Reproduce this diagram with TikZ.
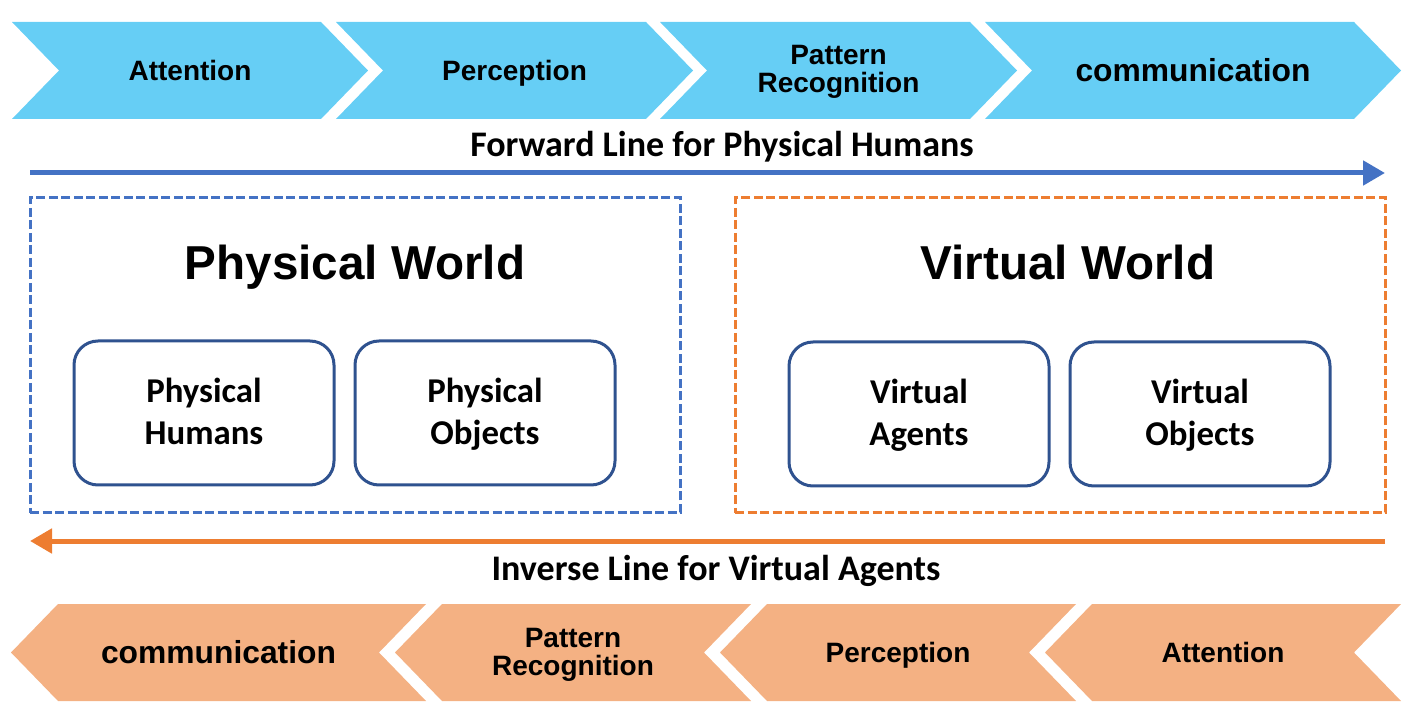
\documentclass[tikz,border=0pt]{standalone}
\usepackage{fontspec}
\setmainfont{Liberation Sans}
\newfontfamily\califont{Carlito}
\usetikzlibrary{arrows.meta,positioning}

\definecolor{chevblue}{RGB}{102,206,245}
\definecolor{chevorange}{RGB}{244,177,131}
\definecolor{lineblue}{RGB}{68,114,196}
\definecolor{lineorange}{RGB}{237,125,49}
\definecolor{boxborder}{RGB}{47,82,143}

\tikzset{
  chevtext/.style={align=center,inner sep=0pt},
  worldframe/.style={line width=1.5pt,dash pattern=on 4.5pt off 1.75pt,minimum width=325pt,minimum height=157.5pt,inner sep=0pt},
  worldtitle/.style={anchor=base,font=\bfseries\fontsize{23.8}{27}\selectfont},
  entity/.style={draw=boxborder,line width=1.5pt,rounded corners=12pt,minimum width=130pt,minimum height=72pt,inner sep=0pt,align=center,text height=32pt,text depth=0pt,font=\califont\bfseries\fontsize{17.4}{21}\selectfont},
  linelabel/.style={anchor=base,font=\califont\bfseries\fontsize{18}{21}\selectfont},
  flowline/.style={line width=2.5pt,-{Triangle[length=11pt,width=12pt]}}
}

\begin{document}
\begin{tikzpicture}[x=0.5pt,y=-0.5pt]
	\useasboundingbox (0,0) rectangle (1407,715);
	% Define chevron tip depth
	\def \tip {47}
	% Forward chevrons
	\foreach \xa/\xb/\name/\fsz/\hgt/\txt in {12/321/fatt/14/10/Attention, 336/646/fper/14/10/Perception, 660/970/fpat/14/22.5/{Pattern\\Recognition}, 985/1354/fcom/15.9/11.4/communication} {
		\fill[chevblue] (\xa,22) -- (\xb,22) -- (\xb+\tip,70.5) -- (\xb,119) -- (\xa,119) -- (\xa+\tip,70.5) -- cycle;
		\node[chevtext,text height=\hgt pt,text depth=0pt,font=\bfseries\fontsize{\fsz}{14}\selectfont] (\name) at ({(\xa+\xb)/2+\tip/2},70.5) {\txt};
	}
	% Inverse chevrons
	\foreach \xa/\xb/\name/\fsz/\hgt/\txt in {58/426/icom/15.9/11.4/communication, 442/751/ipat/14/22.5/{Pattern\\Recognition}, 767/1076/iper/14/10/Perception, 1092/1401/iatt/14/10/Attention} {
		\fill[chevorange] (\xa,604) -- (\xb,604) -- (\xb-\tip,652.5) -- (\xb,701) -- (\xa,701) -- (\xa-\tip,652.5) -- cycle;
		\node[chevtext,text height=\hgt pt,text depth=0pt,font=\bfseries\fontsize{\fsz}{14}\selectfont] (\name) at ({(\xa+\xb)/2-\tip/2},652.5) {\txt};
	}
	% Forward line
	\node[linelabel] (fwdlabel) at (722,157) {Forward Line for Physical Humans};
	\coordinate (fwdstart) at (30,173);
	\coordinate (fwdend) at (1385,173);
	\draw[flowline,lineblue] (fwdstart) -- (fwdend);
	% Inverse line
	\coordinate (invstart) at (1385,541);
	\coordinate (invend) at (30,541);
	\draw[flowline,lineorange] (invstart) -- (invend);
	\node[linelabel] (invlabel) at (716,580) {Inverse Line for Virtual Agents};
	% Worlds
	\node[worldframe,draw=lineblue] (physworld) at (355,355.5) {};
	\node[worldframe,draw=lineorange] (virtworld) at (1060,355.5) {};
	\node[worldtitle] (phystitle) at (355,280) {Physical World};
	\node[worldtitle] (virttitle) at (1068,280) {Virtual World};
	% Entities
	\node[entity] (physhumans) at (204,413) {Physical\\Humans};
	\node[entity] (physobjects) at (485,413) {Physical\\Objects};
	\node[entity] (virtagents) at (919,414) {Virtual\\Agents};
	\node[entity] (virtobjects) at (1200,414) {Virtual\\Objects};
\end{tikzpicture}
\end{document}
